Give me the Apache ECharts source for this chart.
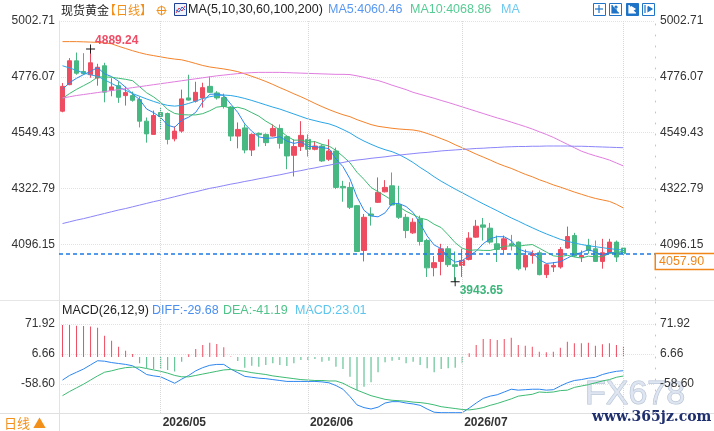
<!DOCTYPE html>
<html>
<head>
<meta charset="utf-8">
<title>现货黄金 日线</title>
<script src="https://cdn.jsdelivr.net/npm/echarts@6.0.0/dist/echarts.min.js"></script>
<style>
  html, body { margin: 0; padding: 0; background: #fff; }
  #chart { width: 714px; height: 431px; }
</style>
</head>
<body>
<div id="chart"></div>
<script>
// trading days (weekdays) from 2026-04-13, a few empty slots after the last candle
const dates = [];
(function () {
  const d = new Date(Date.UTC(2026, 3, 13));
  while (dates.length < 85) {
    const wd = d.getUTCDay();
    if (wd !== 0 && wd !== 6) dates.push(d.toISOString().slice(0, 10));
    d.setUTCDate(d.getUTCDate() + 1);
  }
})();

const monthLines = ['2026-05-01', '2026-06-01', '2026-07-01', '2026-08-03'];
const monthLabels = ['2026-05-01', '2026-06-01', '2026-07-01'];

// [open, close, low, high]
const ohlc = [
  [4636.3, 4737.3, 4632, 4751], [4744.2, 4841.1, 4742, 4852], [4841, 4790.6, 4784.5, 4874.6],
  [4797.9, 4788.6, 4784.5, 4872], [4784.5, 4833, 4772.4, 4889.24], [4771.2, 4814.9, 4740, 4829],
  [4820.9, 4713.8, 4672.6, 4833], [4721.1, 4734.8, 4697, 4770.4], [4740.1, 4692.8, 4670.2, 4757.5],
  [4699.7, 4711.8, 4659.3, 4736], [4699.7, 4680.7, 4675, 4716], [4683.5, 4595.9, 4570.5, 4696],
  [4595.9, 4544.2, 4508.6, 4610.8], [4542.2, 4619, 4542, 4639], [4631, 4614.9, 4562.4, 4651],
  [4627, 4521.9, 4501.7, 4631], [4524, 4555.5, 4513.9, 4574.5], [4555.5, 4686.4, 4549, 4724],
  [4690.4, 4681.5, 4679.5, 4784.5], [4676.7, 4713, 4671.4, 4756], [4690.4, 4732, 4651, 4752],
  [4737.3, 4713, 4710.6, 4777.7], [4710.6, 4690.4, 4683.5, 4717.9], [4691.6, 4655.3, 4647.2, 4707.8],
  [4653.3, 4535.3, 4515, 4656.5], [4535.3, 4562.4, 4485.6, 4590.6], [4568.4, 4478.7, 4465.4, 4582.6],
  [4478.7, 4542.2, 4454.5, 4546.2], [4546.2, 4541, 4492.5, 4550], [4542.2, 4508.6, 4494.9, 4546.2],
  [4535.3, 4566.4, 4532.9, 4582.6], [4566.4, 4505.8, 4484.4, 4582.6], [4532.9, 4454.5, 4400.7, 4538.1],
  [4457.3, 4492.5, 4371.2, 4521.9], [4492.5, 4538.1, 4474.7, 4595.9], [4521.9, 4481.5, 4452, 4542.2],
  [4481.5, 4494.9, 4477.5, 4515], [4494.9, 4434.3, 4430.3, 4501.7], [4441.1, 4474.7, 4434.3, 4521.9],
  [4474.7, 4326.8, 4320, 4488.4], [4330.9, 4325.2, 4268.6, 4353.5], [4326.8, 4246, 4239, 4348],
  [4252.7, 4066.6, 4065.4, 4255.5], [4070.7, 4205.4, 4026.2, 4218.9], [4218.9, 4212, 4171.7, 4246],
  [4266.2, 4306.6, 4263.4, 4367.2], [4309, 4326.8, 4306.6, 4356.3], [4333.3, 4255.3, 4252.7, 4387.4],
  [4256.5, 4205.4, 4198.7, 4333.3], [4205.4, 4151.5, 4120.8, 4218.9], [4142.2, 4185.4, 4138, 4201.5],
  [4198.7, 4107, 4090.9, 4212], [4111.1, 4000, 3963, 4118], [4000.8, 4021, 3965.6, 4048],
  [4026.2, 4077.5, 3969.7, 4097.7], [4077.5, 4012.9, 4003.6, 4088.5], [4012.9, 4006, 3943.65, 4066.6],
  [4010, 4030.3, 3963, 4077.5], [4034.3, 4120.8, 4030.3, 4145], [4124.8, 4169.2, 4122, 4194.7],
  [4174.5, 4165.2, 4111, 4202.8], [4161.2, 4104.6, 4097.7, 4182.6], [4097.7, 4074.7, 4023.8, 4131.3],
  [4074.7, 4118, 4057.3, 4131.3], [4097.7, 4090.9, 4070.7, 4134], [4104.6, 3996.8, 3989.9, 4107],
  [4003.6, 4050.5, 3989.9, 4074.7], [4050.5, 4057.3, 4016.9, 4070.7], [4061.4, 3972.5, 3969.7, 4070.7],
  [3972.5, 4012.9, 3959, 4016.9], [4003.6, 4010, 3983.4, 4023.8], [4003.6, 4074.7, 3996.8, 4084.4],
  [4080.4, 4127.2, 4077.5, 4167.7], [4131.3, 4048, 4044, 4142.2], [4044, 4050.5, 4023.8, 4070.7],
  [4090.9, 4070.7, 4057.3, 4118], [4077.5, 4026.2, 4023.8, 4111], [4026.2, 4061.4, 3996.8, 4118],
  [4061.4, 4104.6, 4057.3, 4118], [4104.6, 4044, 4023.8, 4111], [4080.4, 4057.9, 4050.5, 4084.4]
];

const ma5 = [4725, 4752, 4770, 4785, 4798.1, 4813.6, 4788.2, 4777, 4757.9, 4733.6,
  4706.8, 4683.2, 4645.1, 4630.3, 4610.9, 4579.2, 4571.1, 4599.5, 4612, 4631.7,
  4673.7, 4705.2, 4706, 4700.7, 4665.2, 4631.3, 4584.4, 4554.8, 4531.9, 4526.6,
  4527.4, 4532.8, 4515.3, 4505.6, 4511.5, 4494.5, 4492.3, 4488.3, 4484.7, 4442.4,
  4411.2, 4361.4, 4287.9, 4234, 4211, 4207.3, 4223.5, 4261.2, 4261.2, 4249.1,
  4224.9, 4180.9, 4129.9, 4093, 4078.2, 4043.7, 4023.5, 4029.5, 4049.5, 4067.8,
  4098.3, 4118, 4126.9, 4126.3, 4110.7, 4077, 4066.2, 4062.7, 4033.6, 4018,
  4020.6, 4025.5, 4039.5, 4054.6, 4062.1, 4074.2, 4064.5, 4051.4, 4062.7, 4061.4, 4060.46];
const ma10 = [4688, 4708, 4725, 4740, 4755, 4775, 4776, 4774, 4770, 4765.9,
  4760.2, 4735.7, 4711.1, 4694.1, 4672.3, 4643, 4627.2, 4622.3, 4621.2, 4621.3,
  4626.4, 4638.1, 4652.8, 4656.4, 4648.4, 4652.5, 4644.8, 4630.4, 4616.3, 4595.9,
  4579.3, 4558.6, 4535, 4518.7, 4519, 4510.9, 4512.6, 4501.8, 4495.1, 4477,
  4452.8, 4426.9, 4388.1, 4359.4, 4326.7, 4309.3, 4292.4, 4274.5, 4247.6, 4230.1,
  4216.1, 4202.2, 4195.5, 4177.1, 4163.7, 4134.3, 4102.2, 4079.7, 4071.2, 4073,
  4071, 4070.8, 4078.2, 4087.9, 4089.3, 4087.7, 4092.1, 4094.8, 4080, 4064.3,
  4048.8, 4045.8, 4051.1, 4044.1, 4040, 4047.4, 4045, 4045.4, 4058.6, 4061.7, 4068.86];
const ma30 = [4821, 4812, 4802, 4792, 4784, 4778, 4764, 4749, 4735, 4721,
  4708, 4697, 4686, 4676, 4667, 4660, 4657, 4660, 4668, 4677,
  4688, 4695, 4700, 4702, 4700, 4695, 4688, 4680, 4671, 4662,
  4653, 4645, 4635, 4625, 4615, 4605, 4598, 4591, 4585, 4575,
  4562, 4548, 4530, 4515, 4502, 4490, 4480, 4472, 4460, 4445,
  4428, 4408, 4390, 4370, 4352, 4336, 4320, 4305, 4290, 4275,
  4260, 4246, 4232, 4217, 4203, 4190, 4176, 4163, 4150, 4138,
  4127, 4116, 4108, 4101, 4095, 4090, 4086, 4082, 4078, 4075, 4072];
const ma60 = [4919, 4919, 4919, 4918, 4917, 4916, 4914, 4910, 4900, 4891,
  4882, 4874, 4867, 4862, 4857, 4852, 4848, 4845, 4838, 4830,
  4822, 4816, 4812, 4808, 4803, 4797, 4788, 4778, 4768, 4757,
  4745, 4732, 4720, 4707, 4695, 4682, 4668, 4655, 4643, 4632,
  4622, 4614, 4602, 4592, 4582, 4575, 4571, 4567, 4564, 4562,
  4560, 4555, 4546, 4536, 4525, 4514, 4500, 4488, 4475, 4462,
  4450, 4438, 4425, 4414, 4404, 4392, 4380, 4370, 4358, 4348,
  4337, 4328, 4318, 4308, 4299, 4290, 4282, 4276, 4270, 4258, 4243];
const ma100 = [4690, 4695, 4700, 4704, 4708, 4712, 4716, 4720, 4724, 4728,
  4732, 4736, 4740, 4744, 4748, 4752, 4756, 4760, 4764, 4768,
  4772, 4776, 4780, 4783, 4786, 4789, 4791, 4793, 4794, 4794,
  4794, 4794, 4793, 4792, 4791, 4790, 4789, 4788, 4787, 4786,
  4786, 4785, 4780, 4774, 4767, 4761, 4752, 4742, 4733, 4724,
  4713, 4705, 4697, 4689, 4680, 4672, 4663, 4654, 4645, 4636,
  4627, 4618, 4609, 4601, 4592, 4583, 4574, 4564, 4553, 4542,
  4530, 4516, 4502, 4488, 4474, 4464, 4455, 4447, 4438, 4426, 4414];
const ma200 = [4180, 4187, 4194, 4200, 4207, 4214, 4221, 4228, 4235, 4241,
  4248, 4255, 4262, 4269, 4275, 4282, 4289, 4296, 4303, 4309,
  4316, 4323, 4328, 4334, 4340, 4345, 4351, 4356, 4362, 4367,
  4373, 4378, 4384, 4390, 4395, 4401, 4406, 4412, 4417, 4423,
  4428, 4434, 4438, 4441, 4445, 4448, 4451, 4455, 4458, 4461,
  4464, 4467, 4469, 4472, 4475, 4477, 4479, 4481, 4483, 4485,
  4486, 4488, 4489, 4491, 4492, 4493, 4493, 4494, 4494, 4495,
  4495, 4495, 4495, 4494, 4494, 4493, 4492, 4491, 4490, 4489, 4488];

const macdHist = [69.8, 69.8, 68.3, 67.6, 66.2, 64, 46.6, 35.7, 22.6, 13.9,
  6.7, -13.5, -24.4, -25.9, -25.9, -28, -31.7, -10, 6, 17.6,
  26.3, 31.3, 28.5, 21.3, 1, -8.5, -23, -18.7, -20.9, -17.2,
  -13.5, -17.2, -19.4, -13.5, -6.3, -6.3, -4.1, -10, -8, -20.9,
  -25.9, -42.6, -71.6, -64.4, -54.9, -33.1, -11.3, -7.8, -6.3, -13.5,
  -10, -17.2, -24.4, -33.1, -25.9, -24.4, -23, -13.5, 8.2, 26.3,
  39.4, 39.4, 37.2, 39.4, 42.2, 26.3, 24.8, 22.6, 11.7, 10.4,
  11.7, 20.4, 33.5, 30, 30, 31.3, 24.8, 27.8, 30, 26.3, 23.01];
const diff = [-50, -40, -33, -26, -17, -8, -9, -12, -14, -16,
  -19, -28, -38, -41, -43, -50, -57, -48, -40, -30,
  -23, -18, -16, -16, -26, -34, -42, -44, -46, -47,
  -49, -51, -53, -53, -53, -53, -53, -54, -56, -62,
  -70, -86, -104, -110, -113, -109, -100, -97, -97, -100,
  -102, -105, -113, -120, -121, -121, -121, -121, -111, -100,
  -90, -85, -82, -76, -70, -72, -71, -70, -70, -72,
  -71, -63, -56, -51, -49, -46, -44, -38, -34, -31, -29.68];
const dea = [-84, -75, -67, -59, -50, -41, -33, -30, -26, -23,
  -22, -22, -25, -28, -31, -35, -40, -43, -43, -40,
  -37, -34, -31, -28, -27, -29, -31, -34, -36, -38,
  -41, -43, -45, -47, -49, -50, -51, -51, -52, -52,
  -57, -65, -72, -78, -84, -88, -92, -94, -95, -96,
  -98, -99, -101, -104, -108, -110, -112, -114, -115, -113,
  -110, -105, -101, -96, -91, -85, -83, -81, -76, -77,
  -76, -73, -72, -66, -63, -60, -56, -52, -49, -44, -41.19];

const priceTicks = [4096.15, 4322.79, 4549.43, 4776.07, 5002.71];
const macdTicks = [-58.60, 6.66, 71.92];

const UP = '#ee4c60';
const DOWN = '#48b882';
const LAST_LINE = '#1c7ae4';
const FONT = "Arial, 'Liberation Sans', 'Noto Sans CJK SC', sans-serif";
const CJK = "'Noto Sans CJK SC', sans-serif";

const last = a => a[a.length - 1];
const lastClose = last(ohlc)[1];

function valueAxis(grid, side, ticks, min, max) {
  return {
    type: 'value', gridIndex: grid, position: side, min: min, max: max,
    axisLine: { show: true, lineStyle: side === 'left' ? { color: '#e3e3e3' } : { color: '#c4c4c4', type: [1, 10] } },
    axisTick: { show: false, customValues: ticks },
    axisLabel: { customValues: ticks, formatter: v => v.toFixed(2), color: '#333', fontSize: 12, fontFamily: FONT, margin: side === 'left' ? 4 : 5 },
    splitLine: { show: side === 'left', lineStyle: { color: '#e2e2e2', type: 'dotted' } }
  };
}

function maLine(name, data, color) {
  return {
    type: 'line', name: name, data: data, xAxisIndex: 0, yAxisIndex: 0,
    symbol: 'none', silent: true, lineStyle: { width: 1, color: color }, itemStyle: { color: color }
  };
}

const monthMarks = {
  silent: true, symbol: ['none', 'none'], label: { show: false },
  lineStyle: { color: '#d8d8d8', type: 'dotted', width: 1 },
  data: monthLines.map(d => ({ xAxis: d }))
};

function txt(x, y, text, fill, size, family, weight) {
  return {
    type: 'text', x: x, y: y, silent: true,
    style: { text: text, fill: fill, fontSize: size || 12.5, fontFamily: family || FONT, fontWeight: weight || 'normal', verticalAlign: 'middle' }
  };
}
function ln(x1, y1, x2, y2, color, w) {
  return { type: 'line', silent: true, shape: { x1: x1, y1: y1, x2: x2, y2: y2 }, style: { stroke: color, lineWidth: w || 1 } };
}
function toolIcon(x, filled, parts) {
  const fg = filled ? '#fff' : '#1f74c8';
  const els = [{ type: 'rect', shape: { x: x + 0.5, y: 3.5, width: 12, height: 12 }, style: { fill: filled ? '#1f74c8' : '#fff', stroke: '#1f74c8', lineWidth: 1 } }];
  parts.forEach(p => els.push({ type: 'polyline', shape: { points: p.map(q => [x + q[0], 3 + q[1]]) }, style: { stroke: fg, fill: p.fill ? fg : null, lineWidth: 1.2 } }));
  return els;
}

const graphics = [
  // panel separators
  ln(0, 300.5, 714, 300.5, '#e6e6e6'),
  ln(0, 413.5, 714, 413.5, '#e0e0e0'),
  ln(59.5, 413, 59.5, 431, '#e0e0e0'),
  // title / MA legend
  txt(61, 10, '现货黄金', '#222', 12, CJK),
  txt(104, 10, '【日线】', '#f39019', 12, CJK),
  { type: 'circle', silent: true, shape: { cx: 161.5, cy: 10.5, r: 4 }, style: { fill: 'none', stroke: '#f39019', lineWidth: 1 } },
  ln(156.5, 10.5, 166.5, 10.5, '#f39019'),
  ln(161.5, 5.5, 161.5, 15.5, '#f39019'),
  { type: 'rect', silent: true, shape: { x: 174.5, y: 3.5, width: 12, height: 12 }, style: { fill: '#eef3fb', stroke: '#1d3f94', lineWidth: 1 } },
  { type: 'polyline', silent: true, shape: { points: [[176, 13], [179, 8], [182, 11], [185, 6]] }, style: { stroke: '#e0303a', fill: null, lineWidth: 1 } },
  { type: 'polyline', silent: true, shape: { points: [[176, 10], [179, 12], [182, 7], [185, 10]] }, style: { stroke: '#2a5bd7', fill: null, lineWidth: 1 } },
  txt(188, 10, 'MA(5,10,30,60,100,200)', '#222'),
  txt(328, 10, 'MA5:' + last(ma5).toFixed(2), '#5898f2'),
  txt(410, 10, 'MA10:' + last(ma10).toFixed(2), '#57cc95'),
  txt(501, 10, 'MA', '#6fc9ef'),
  // MACD legend
  txt(62, 311, 'MACD(26,12,9)', '#222'),
  txt(152, 311, 'DIFF:' + last(diff).toFixed(2), '#4a8ff0'),
  txt(223, 311, 'DEA:' + last(dea).toFixed(2), '#4fc38a'),
  txt(295, 311, 'MACD:' + last(macdHist).toFixed(2), '#5cc6ee'),
  // period switch
  txt(4, 423, '日线 ▲', '#f39019', 13, CJK),
  // watermark
  {
    type: 'text', x: 585, y: 395, silent: true,
    style: { text: 'FX678', fontSize: 34, fontFamily: FONT, fill: 'rgba(218,226,238,0.85)', stroke: '#b3c1d4', lineWidth: 1, verticalAlign: 'middle' }
  },
  txt(592, 417, 'www.365jz.com', '#1f2f6e', 14, "'DejaVu Serif', serif", 'bold')
]
  .concat(toolIcon(593, false, [[[6, 2], [6, 10]], [[2, 6], [10, 6]]]))
  .concat(toolIcon(609, false, [[[3, 2], [3, 10], [10, 10]], [[7, 3], [7, 8]], [[5.5, 4.5], [7, 3], [8.5, 4.5]]]))
  .concat(toolIcon(626, true, [[[3, 2], [3, 10], [10, 10]], Object.assign([[5, 3.5], [9, 6], [5, 8.5], [5, 3.5]], { fill: true })]))
  .concat(toolIcon(642, false, [[[3, 2], [3, 10]], Object.assign([[6, 3.5], [10, 6], [6, 8.5], [6, 3.5]], { fill: true })]));

const option = {
  animation: false,
  backgroundColor: '#fff',
  textStyle: { fontFamily: FONT },
  grid: [
    { left: 59, right: 59, top: 21, height: 279 },
    { left: 59, right: 59, top: 300, height: 113 }
  ],
  xAxis: [
    {
      type: 'category', data: dates, gridIndex: 0, boundaryGap: true,
      axisLine: { show: false }, axisTick: { show: false }, axisLabel: { show: false }, splitLine: { show: false }
    },
    {
      type: 'category', data: dates, gridIndex: 1, boundaryGap: true,
      axisLine: { show: false }, axisTick: { show: false }, splitLine: { show: false },
      axisLabel: {
        interval: (i, v) => monthLabels.indexOf(v) >= 0,
        formatter: v => v.slice(0, 7).replace('-', '/'),
        align: 'left', fontWeight: 'bold', fontSize: 12, color: '#333', margin: 4, padding: [0, 0, 0, 2]
      }
    }
  ],
  yAxis: [
    valueAxis(0, 'left', priceTicks, 3869.51, 5002.71),
    valueAxis(0, 'right', priceTicks, 3869.51, 5002.71),
    valueAxis(1, 'left', macdTicks, -121.7, 124.1),
    valueAxis(1, 'right', macdTicks, -121.7, 124.1)
  ],
  series: [
    {
      type: 'candlestick', name: '现货黄金', data: ohlc, xAxisIndex: 0, yAxisIndex: 0, barWidth: 5,
      itemStyle: { color: UP, color0: DOWN, borderColor: UP, borderColor0: DOWN, borderWidth: 1 },
      markPoint: {
        silent: true,
        symbol: 'path://M0,4.5H10V5.5H0Z M4.5,0H5.5V10H4.5Z', symbolSize: 9,
        itemStyle: { color: '#111' },
        label: { show: true, position: 'right', distance: 0, fontSize: 12, fontWeight: 'bold', formatter: p => p.value.toFixed(2) },
        data: [
          { type: 'max', valueDim: 'highest', label: { color: '#ef4d66', offset: [0, -8] } },
          { type: 'min', valueDim: 'lowest', label: { color: '#3db57b', offset: [0, 9] } }
        ]
      },
      markLine: {
        silent: true, symbol: ['none', 'none'],
        lineStyle: { color: LAST_LINE, type: [4, 3], width: 1.5, opacity: 1 },
        label: {
          show: true, position: 'end', distance: 1, offset: [0, 8],
          formatter: p => p.value.toFixed(2),
          color: '#f08519', fontSize: 12.5, backgroundColor: '#fff',
          borderColor: '#f08519', borderWidth: 1.5, padding: [1, 10, 1, 3]
        },
        data: [{ yAxis: lastClose, lineStyle: { color: LAST_LINE, type: [4, 3], width: 1.5 } }]
      }
    },
    maLine('MA5', ma5, '#2d86f0'),
    maLine('MA10', ma10, '#3dbb74'),
    maLine('MA30', ma30, '#2aa6e6'),
    maLine('MA60', ma60, '#f5832a'),
    maLine('MA100', ma100, '#e07ddf'),
    Object.assign(maLine('MA200', ma200, '#8c85fa'), { markLine: monthMarks }),
    {
      type: 'bar', name: 'MACD', data: macdHist, xAxisIndex: 1, yAxisIndex: 2, barWidth: 1, silent: true,
      itemStyle: { color: p => (p.value >= 0 ? UP : DOWN) }
    },
    {
      type: 'line', name: 'DIFF', data: diff, xAxisIndex: 1, yAxisIndex: 2, symbol: 'none', silent: true,
      lineStyle: { width: 1, color: '#2d86f0' }
    },
    {
      type: 'line', name: 'DEA', data: dea, xAxisIndex: 1, yAxisIndex: 2, symbol: 'none', silent: true,
      lineStyle: { width: 1, color: '#3dbb74' }, markLine: monthMarks
    }
  ],
  graphic: graphics
};

const chart = echarts.init(document.getElementById('chart'));
chart.setOption(option);
</script>
</body>
</html>
